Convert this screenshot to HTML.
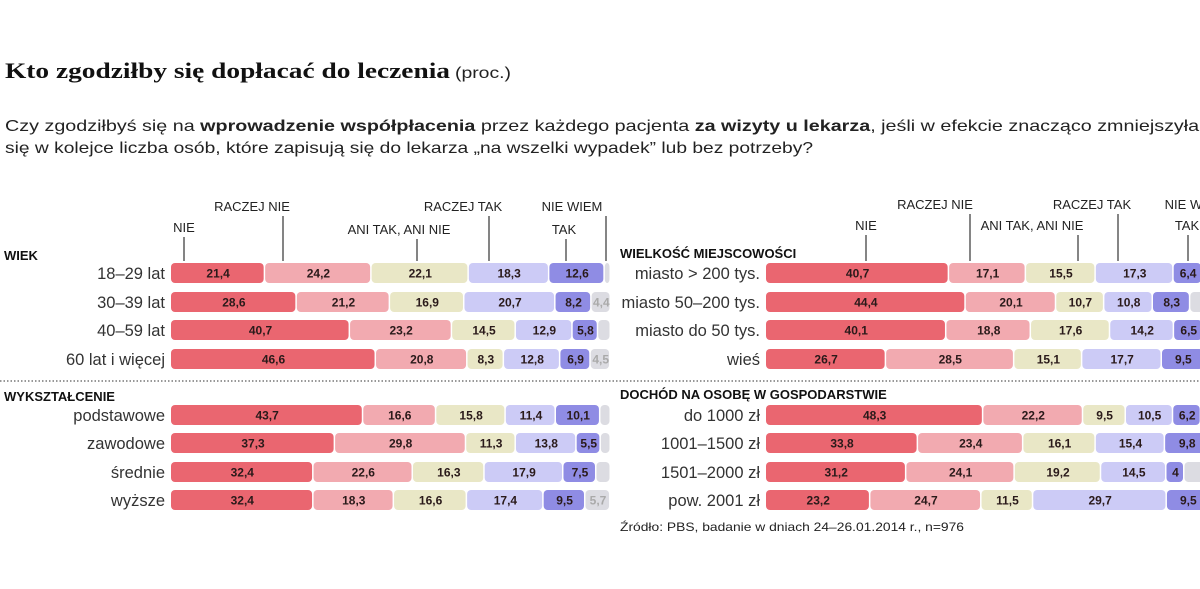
<!DOCTYPE html>
<html><head><meta charset="utf-8">
<style>
html,body{margin:0;padding:0;background:#fff;}
body{width:1200px;height:589px;overflow:hidden;}
svg{display:block;font-family:"Liberation Sans",sans-serif;}
</style></head>
<body>
<svg id="chart" width="1200" height="589" viewBox="0 0 1200 589" xmlns="http://www.w3.org/2000/svg">
  <text x="5" y="78" font-family="Liberation Serif, serif" font-weight="bold" font-size="22" fill="#111" textLength="445" lengthAdjust="spacingAndGlyphs">Kto zgodziłby się dopłacać do leczenia</text>
  <text x="455" y="78" font-size="16" fill="#222" textLength="56" lengthAdjust="spacingAndGlyphs">(proc.)</text>
  <text x="5" y="131" font-size="16" fill="#222" textLength="1215" lengthAdjust="spacingAndGlyphs">Czy zgodziłbyś się na <tspan font-weight="bold">wprowadzenie współpłacenia</tspan> przez każdego pacjenta <tspan font-weight="bold">za wizyty u lekarza</tspan>, jeśli w efekcie znacząco zmniejszyłaby</text>
  <text x="5" y="153" font-size="16" fill="#222" textLength="808" lengthAdjust="spacingAndGlyphs">się w kolejce liczba osób, które zapisują się do lekarza „na wszelki wypadek” lub bez potrzeby?</text>
  <line x1="0" y1="381" x2="1200" y2="381" stroke="#777" stroke-width="1.5" stroke-dasharray="1.5,2"/>
  <text x="620" y="531" font-size="12" fill="#222" textLength="344" lengthAdjust="spacingAndGlyphs">Źródło: PBS, badanie w dniach 24–26.01.2014 r., n=976</text>
  <g id="bars"></g>
</svg>
<script>
// categories
const catNames = ["NIE","RACZEJ NIE","ANI TAK, ANI NIE","RACZEJ TAK","TAK","NIE WIEM"];
const colors = ["#ea6670","#f2aab0","#e9e7c6","#cccbf6","#8f8ce4","#dcdce2"];
// WIEK
const wiekLabels = ["18–29 lat","30–39 lat","40–59 lat","60 lat i więcej"];
const wiekNie = [21.4,28.6,40.7,46.6];
const wiekRaczejNie = [24.2,21.2,23.2,20.8];
const wiekAni = [22.1,16.9,14.5,8.3];
const wiekRaczejTak = [18.3,20.7,12.9,12.8];
const wiekTak = [12.6,8.2,5.8,6.9];
const wiekNieWiem = [1.4,4.4,2.9,4.5];
const wiekShowLast = [false,true,false,true];
// WYKSZTAŁCENIE
const wyksLabels = ["podstawowe","zawodowe","średnie","wyższe"];
const wyksNie = [43.7,37.3,32.4,32.4];
const wyksRaczejNie = [16.6,29.8,22.6,18.3];
const wyksAni = [15.8,11.3,16.3,16.6];
const wyksRaczejTak = [11.4,13.8,17.9,17.4];
const wyksTak = [10.1,5.5,7.5,9.5];
const wyksNieWiem = [2.4,2.3,3.3,5.7];
const wyksShowLast = [false,false,false,true];
// WIELKOŚĆ MIEJSCOWOŚCI
const miejLabels = ["miasto > 200 tys.","miasto 50–200 tys.","miasto do 50 tys.","wieś"];
const miejNie = [40.7,44.4,40.1,26.7];
const miejRaczejNie = [17.1,20.1,18.8,28.5];
const miejAni = [15.5,10.7,17.6,15.1];
const miejRaczejTak = [17.3,10.8,14.2,17.7];
const miejTak = [6.4,8.3,6.5,9.5];
const miejNieWiem = [3.0,5.7,2.8,2.5];
// DOCHÓD
const dochLabels = ["do 1000 zł","1001–1500 zł","1501–2000 zł","pow. 2001 zł"];
const dochNie = [48.3,33.8,31.2,23.2];
const dochRaczejNie = [22.2,23.4,24.1,24.7];
const dochAni = [9.5,16.1,19.2,11.5];
const dochRaczejTak = [10.5,15.4,14.5,29.7];
const dochTak = [6.2,9.8,4,9.5];
const dochNieWiem = [3.3,1.5,7.0,1.4];

const NS = "http://www.w3.org/2000/svg";
const g = document.getElementById("bars");
function el(tag, attrs, parent){
  const e = document.createElementNS(NS, tag);
  for (const k in attrs) e.setAttribute(k, attrs[k]);
  (parent||g).appendChild(e);
  return e;
}
function fmt(v){ return String(v).replace(".", ","); }

function drawPanel(opts){
  const {x0, scale, rowY, labels, series, showLast, title, titleY, labelRight, prefix} = opts;
  const t = el("text", {x: opts.titleX, y: titleY, "font-size": 13, "font-weight": "bold", fill: "#111"});
  
  
  t.textContent = title;
  const xScale = v => v * scale;
  labels.forEach((lab, i) => {
    const y = rowY[i];
    const lt = el("text", {x: labelRight, y: y + 6, "font-size": 16.5, fill: "#333", "text-anchor": "end"});
    
    
    lt.textContent = lab;
    let acc = 0;
    series.forEach((arr, s) => {
      const v = arr[i];
      const x = x0 + xScale(acc);
      const w = xScale(v);
      const r = el("rect", {x: x, y: y - 10, width: Math.max(w - 1.5, 0.5), height: 20, rx: 4, fill: colors[s]});
      
      
      const isLast = s === series.length - 1;
      if (!isLast || (showLast && showLast[i])) {
        const vt = el("text", {x: x + w / 2, y: y + 4.5, "font-size": 12, "font-weight": "bold", fill: isLast ? "#aaa" : "#2a1a1a", "text-anchor": "middle"});
        
        
        vt.textContent = fmt(v);
      }
      acc += v;
    });
  });
}
function drawHeaders(items, prefix){
  items.forEach(it => {
    const t = el("text", {x: it.tx, y: it.ty, "font-size": 13, fill: "#222", "text-anchor": "middle"});
    
    
    t.textContent = it.name;
    const l = el("line", {x1: it.lx, y1: it.ty + 5, x2: it.lx, y2: 261, stroke: "#333", "stroke-width": 1.2});
    
    
  });
}

drawHeaders([
  {name: catNames[0], tx: 184, ty: 232, lx: 184},
  {name: catNames[1], tx: 252, ty: 211, lx: 283},
  {name: catNames[2], tx: 399, ty: 234, lx: 417},
  {name: catNames[3], tx: 463, ty: 211, lx: 489},
  {name: catNames[4], tx: 564, ty: 234, lx: 566},
  {name: catNames[5], tx: 572, ty: 211, lx: 606}
], "left");
drawHeaders([
  {name: catNames[0], tx: 866, ty: 230, lx: 866},
  {name: catNames[1], tx: 935, ty: 209, lx: 970},
  {name: catNames[2], tx: 1032, ty: 230, lx: 1078},
  {name: catNames[3], tx: 1092, ty: 209, lx: 1118},
  {name: catNames[4], tx: 1187, ty: 230, lx: 1188},
  {name: catNames[5], tx: 1195, ty: 209, lx: 1210}
], "right");

const topRows = [273, 302, 330, 359];
const botRows = [415, 443, 472, 500];
drawPanel({x0: 171, scale: 4.4, rowY: topRows, labels: wiekLabels, series: [wiekNie,wiekRaczejNie,wiekAni,wiekRaczejTak,wiekTak,wiekNieWiem], showLast: wiekShowLast, title: "WIEK", titleX: 4, titleY: 260, labelRight: 165, prefix: "wiek"});
drawPanel({x0: 171, scale: 4.4, rowY: botRows, labels: wyksLabels, series: [wyksNie,wyksRaczejNie,wyksAni,wyksRaczejTak,wyksTak,wyksNieWiem], showLast: wyksShowLast, title: "WYKSZTAŁCENIE", titleX: 4, titleY: 401, labelRight: 165, prefix: "wyksztalcenie"});
drawPanel({x0: 766, scale: 4.5, rowY: topRows, labels: miejLabels, series: [miejNie,miejRaczejNie,miejAni,miejRaczejTak,miejTak,miejNieWiem], showLast: null, title: "WIELKOŚĆ MIEJSCOWOŚCI", titleX: 620, titleY: 258, labelRight: 760, prefix: "miejscowosc"});
drawPanel({x0: 766, scale: 4.5, rowY: botRows, labels: dochLabels, series: [dochNie,dochRaczejNie,dochAni,dochRaczejTak,dochTak,dochNieWiem], showLast: null, title: "DOCHÓD NA OSOBĘ W GOSPODARSTWIE", titleX: 620, titleY: 399, labelRight: 760, prefix: "dochod"});
</script>
</body></html>
